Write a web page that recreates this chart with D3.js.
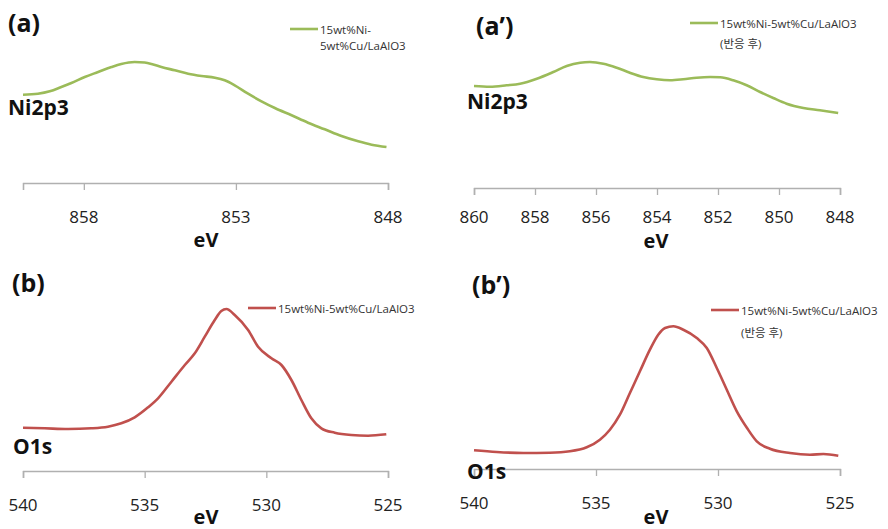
<!DOCTYPE html>
<html>
<head>
<meta charset="utf-8">
<script src="https://cdn.jsdelivr.net/npm/d3@7"></script>
<style>
  html, body { margin: 0; padding: 0; background: #fff; }
  svg { display: block; font-family: "Open Sans", "Noto Sans CJK KR", sans-serif; }
</style>
</head>
<body>
<svg id="chart" width="888" height="529"></svg>
<script>
// ---------- DATA (binding energy in eV, intensity in arbitrary units) ----------
const seriesName = "15wt%Ni-5wt%Cu/LaAlO3";
const afterLabel = "(반응 후)";

// (a) Ni2p3, fresh
const ni_a_eV = [860.00, 859.51, 859.12, 858.74, 858.41, 857.97, 857.53, 857.09, 856.77, 856.33, 856.00, 855.72, 855.45, 855.01, 854.57, 854.13, 853.69, 853.37, 853.04, 852.60, 852.16, 851.72, 851.17, 850.63, 850.08, 849.53, 848.98, 848.54, 848.05];
const ni_a_I  = [88.3, 89.3, 91.7, 96, 100, 106, 111, 116, 119, 121, 120.5, 118.5, 116, 112.7, 109.3, 107, 105.3, 102.7, 97.7, 89.3, 81.7, 75, 67.7, 60.3, 53.7, 47, 41.7, 38.3, 36];

// (a') Ni2p3, after reaction
const ni_b_eV = [860.00, 859.48, 858.93, 858.49, 857.94, 857.40, 856.96, 856.52, 856.20, 855.76, 855.32, 854.89, 854.45, 854.01, 853.57, 853.14, 852.70, 852.26, 851.93, 851.50, 851.06, 850.62, 850.19, 849.75, 849.20, 848.66, 848.06];
const ni_b_I  = [102, 101.3, 102.7, 104.3, 109.3, 116, 122, 125.3, 126, 124.3, 120.3, 115.3, 111, 108.7, 107.7, 108.7, 110.3, 111, 110.7, 107.7, 102.7, 96, 90, 84.3, 80, 77.7, 75];

// (b) O1s, fresh
const o_a_eV = [540.00, 539.11, 538.15, 537.19, 536.51, 535.96, 535.41, 534.86, 534.45, 533.90, 533.35, 532.94, 532.53, 532.12, 531.85, 531.64, 531.30, 530.75, 530.34, 529.79, 529.38, 528.97, 528.56, 528.15, 527.74, 527.19, 526.51, 525.82, 525.07];
const o_a_I  = [43.3, 42.7, 42, 42.7, 44.3, 47.7, 53.7, 63.7, 72.7, 89.3, 106, 117.7, 134.3, 151, 160, 162, 156, 141, 124.3, 112.7, 106, 91, 71, 52.7, 42.7, 38.3, 36, 35.3, 36.7];

// (b') O1s, after reaction
const o_b_eV = [540.00, 539.07, 537.98, 536.89, 536.07, 535.38, 534.84, 534.43, 534.02, 533.61, 533.20, 532.79, 532.45, 532.17, 531.83, 531.42, 530.87, 530.46, 530.05, 529.64, 529.23, 528.81, 528.41, 527.87, 527.05, 526.23, 525.68, 525.07];
const o_b_I  = [18.7, 17, 16, 16.3, 17.7, 21.7, 29.3, 39.3, 54.3, 76, 97.7, 119.3, 134.3, 141, 142.7, 139.3, 131, 121, 101, 79.3, 57.7, 41, 27.7, 20.3, 16, 14.3, 15, 13.3];

// tick labels
const ticks_a  = [858, 853, 848];
const ticks_a2 = [860, 858, 856, 854, 852, 850, 848];
const ticks_o  = [540, 535, 530, 525];

// ---------- LAYOUT ----------
const GREEN = "#9bbb59", RED = "#c0504d";
const panels = [
  { tag: "(a)",  tagX: 8,   tagY: 22,  el: "Ni2p3", elX: 8,   elY: 107,
    eV: ni_a_eV, I: ni_a_I, dom: [860, 848], ticks: ticks_a, x0: 23, x1: 388, axisY: 183,
    color: GREEN, legX: 290, legY: 29, legLines: ["15wt%Ni-", "5wt%Cu/LaAlO3"], legDy: 16,
    tickLabY: 216, evX: 206, evY: 239 },
  { tag: "(a’)", tagX: 476, tagY: 25, el: "Ni2p3", elX: 467, elY: 101,
    eV: ni_b_eV, I: ni_b_I, dom: [860, 848], ticks: ticks_a2, x0: 474, x1: 840, axisY: 188,
    color: GREEN, legX: 690, legY: 23, legLines: [seriesName, afterLabel], legDy: 20,
    tickLabY: 216, evX: 656, evY: 240 },
  { tag: "(b)",  tagX: 12,  tagY: 282, el: "O1s", elX: 13, elY: 446,
    eV: o_a_eV, I: o_a_I, dom: [540, 525], ticks: ticks_o, x0: 23, x1: 388, axisY: 471,
    color: RED, legX: 248, legY: 308, legLines: [seriesName], legDy: 20,
    tickLabY: 504, evX: 206, evY: 516 },
  { tag: "(b’)", tagX: 472, tagY: 284, el: "O1s", elX: 467, elY: 471,
    eV: o_b_eV, I: o_b_I, dom: [540, 525], ticks: ticks_o, x0: 474, x1: 840, axisY: 469,
    color: RED, legX: 711, legY: 310, legLines: [seriesName, afterLabel], legDy: 22,
    tickLabY: 502, evX: 656, evY: 516 }
];

const svg = d3.select("#chart");

panels.forEach(p => {
  const g = svg.append("g");
  const x = d3.scaleLinear().domain(p.dom).range([p.x0, p.x1]);
  const y = d3.scaleLinear().domain([0, 100]).range([p.axisY, p.axisY - 100]);

  // axis
  const ax = g.append("g").attr("transform", `translate(0,${p.axisY})`)
    .call(d3.axisBottom(x).tickValues(p.dom.concat(p.ticks)).tickSize(7).tickFormat(""));
  ax.select(".domain").attr("stroke", "#b0b0b0").attr("stroke-width", 1.3);
  ax.selectAll(".tick line").attr("stroke", "#b0b0b0").attr("stroke-width", 1.3);

  // tick labels
  g.selectAll("text.tl").data(p.ticks).enter().append("text")
    .attr("x", d => x(d)).attr("y", p.tickLabY)
    .attr("text-anchor", "middle").attr("dominant-baseline", "central")
    .attr("font-size", 17).attr("fill", "#222").text(d => d);

  // eV label
  g.append("text").attr("x", p.evX).attr("y", p.evY)
    .attr("text-anchor", "middle").attr("dominant-baseline", "central")
    .attr("font-size", 20).attr("font-weight", "bold").attr("fill", "#111").text("eV");

  // curve
  const pts = p.eV.map((e, i) => [e, p.I[i]]);
  g.append("path").datum(pts)
    .attr("fill", "none").attr("stroke", p.color).attr("stroke-width", 2.6)
    .attr("stroke-linejoin", "round")
    .attr("d", d3.line().x(d => x(d[0])).y(d => y(d[1])).curve(d3.curveMonotoneX));

  // panel tag
  g.append("text").attr("x", p.tagX).attr("y", p.tagY)
    .attr("dominant-baseline", "central").attr("font-size", 25).attr("font-weight", "bold")
    .attr("fill", "#111").text(p.tag);

  // element label
  g.append("text").attr("x", p.elX).attr("y", p.elY)
    .attr("dominant-baseline", "central").attr("font-size", 21).attr("font-weight", "bold")
    .attr("fill", "#111").text(p.el);

  // legend
  g.append("line").attr("x1", p.legX).attr("x2", p.legX + 28)
    .attr("y1", p.legY).attr("y2", p.legY)
    .attr("stroke", p.color).attr("stroke-width", 2.6);
  p.legLines.forEach((t, i) => {
    g.append("text").attr("x", p.legX + 30).attr("y", p.legY + i * p.legDy)
      .attr("dominant-baseline", "central").attr("font-size", 11.5).attr("fill", "#333").text(t);
  });
});
</script>
</body>
</html>
